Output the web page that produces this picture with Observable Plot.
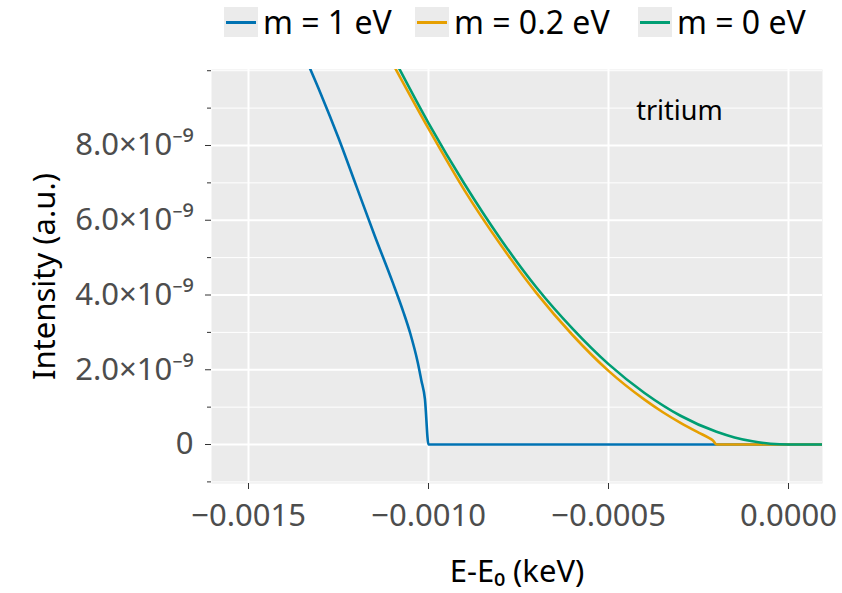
<!DOCTYPE html>
<html>
<head>
<meta charset="utf-8">
<script src="https://cdn.jsdelivr.net/npm/d3@7"></script>
<script src="https://cdn.jsdelivr.net/npm/@observablehq/plot@0.6"></script>
<style>
  body { margin: 0; background: #fff; font-family: "Noto Sans", sans-serif; }
  #wrap { position: relative; width: 842px; height: 593px; }
  #legend { position: absolute; top: 0; left: 0; width: 842px; height: 50px; font-size: 32px; color: #000; }
  .item { position: absolute; top: 6px; display: flex; align-items: center; line-height: 32px; }
  .sw { width: 34px; height: 30px; background: #EBEBEB; position: relative; margin-right: 5px; }
  .sw span { position: absolute; left: 2px; right: 2px; top: 13.5px; height: 3px; }
</style>
</head>
<body>
<div id="wrap"><div id="legend"></div><div id="chart"></div></div>
<script>
// ---- data ----
const seriesNames = ["m = 1 eV", "m = 0.2 eV", "m = 0 eV"];
const seriesColors = ["#0072B2", "#E69F00", "#009E73"];

// m = 1 eV  (x in keV, y in units of 1e-9)
const m1X = [-0.00134, -0.00130, -0.00125, -0.00120, -0.00115, -0.00110, -0.00107, -0.00105, -0.00103, -0.00102, -0.00101, -0.00100, -0.00050, 0.00000, 0.00010];
const m1Y = [10.3, 9.4, 8.2, 6.9, 5.6, 4.35, 3.55, 2.95, 2.2, 1.72, 1.22, 0, 0, 0, 0];

// m = 0.2 eV
const m02X = [-0.00110, -0.00100, -0.00090, -0.00080, -0.00070, -0.00060, -0.00050, -0.00040, -0.00035, -0.00030, -0.00025, -0.00022, -0.00021, -0.00020, 0.00000, 0.00010];
const m02Y = [10.2, 8.45, 6.8, 5.35, 4.05, 2.93, 1.97, 1.2, 0.87, 0.58, 0.32, 0.17, 0.11, 0, 0, 0];

// m = 0 eV
const m0X = [-0.00110, -0.00100, -0.00090, -0.00080, -0.00070, -0.00060, -0.00050, -0.00040, -0.00030, -0.00020, -0.00015, -0.00010, -0.00005, 0.00000, 0.00010];
const m0Y = [10.4, 8.6, 6.97, 5.5, 4.2, 3.1, 2.15, 1.38, 0.77, 0.34, 0.19, 0.086, 0.02, 0, 0];

// axes
const xDomain = [-0.0016028, 0.0000944];
const yDomain = [-1.043e-9, 10.033e-9];
const xTicks = [-0.0015, -0.0010, -0.0005, 0];
const yMajorTicks = [0, 2e-9, 4e-9, 6e-9, 8e-9];
const yMinorTicks = [-1e-9, 1e-9, 3e-9, 5e-9, 7e-9, 9e-9, 1e-8];
const annotation = [{text: "tritium", x: -0.000303, y: 8.91e-9}];
const xTitle = "E-E₀ (keV)";
const yTitle = "Intensity (a.u.)";
const legendLeft = [224, 415, 638];

// ---- build rows ----
const toRows = (xs, ys, name) => xs.map((x, i) => ({series: name, x, y: ys[i] * 1e-9}));
const rows1 = toRows(m1X, m1Y, seriesNames[0]);
const rows02 = toRows(m02X, m02Y, seriesNames[1]);
const rows0 = toRows(m0X, m0Y, seriesNames[2]);

const fmtY = d => d === 0 ? "0" : (d / 1e-9).toFixed(1) + "×10⁻⁹";
const fmtX = d => d === 0 ? "0.0000" : d3.format(".4f")(d);

const lineOpts = (color) => ({x: "x", y: "y", stroke: color, strokeWidth: 2.6, curve: "monotone-x", clip: true});

const chart = Plot.plot({
  width: 842,
  height: 593,
  marginLeft: 211,
  marginRight: 20,
  marginTop: 69,
  marginBottom: 110,
  style: {fontFamily: "Noto Sans", fontSize: "31px", background: "white"},
  x: {domain: xDomain, label: null},
  y: {domain: yDomain, label: null},
  marks: [
    Plot.frame({fill: "#EBEBEB", stroke: null}),
    Plot.gridY(yMinorTicks, {stroke: "white", strokeOpacity: 1, strokeWidth: 1}),
    Plot.gridY(yMajorTicks, {stroke: "white", strokeOpacity: 1, strokeWidth: 2}),
    Plot.gridX(xTicks, {stroke: "white", strokeOpacity: 1, strokeWidth: 2}),
    Plot.axisY(yMajorTicks, {tickSize: 6, tickPadding: 12, tickFormat: fmtY, fill: "#4D4D4D", stroke: "#333", label: null, fontSize: 31}),
    Plot.axisY(yMinorTicks, {tickSize: 4, tickFormat: () => "", stroke: "#333", label: null}),
    Plot.axisX(xTicks, {tickSize: 6, tickPadding: 14, tickFormat: fmtX, fill: "#4D4D4D", stroke: "#333", label: null, fontSize: 31}),
    Plot.line(rows1, lineOpts(seriesColors[0])),
    Plot.line(rows02, lineOpts(seriesColors[1])),
    Plot.line(rows0, lineOpts(seriesColors[2])),
    Plot.text(annotation, {x: "x", y: "y", text: "text", fill: "#000", fontSize: 27}),
    Plot.text([xTitle], {frameAnchor: "bottom", lineAnchor: "middle", dy: 89, fill: "#000", fontSize: 31}),
    Plot.text([yTitle], {frameAnchor: "left", textAnchor: "middle", rotate: -90, dx: -166, fill: "#000", fontSize: 31})
  ]
});
document.getElementById("chart").appendChild(chart);

// legend
const legend = document.getElementById("legend");
seriesNames.forEach((name, i) => {
  const item = document.createElement("div");
  item.className = "item";
  item.style.left = legendLeft[i] + "px";
  const sw = document.createElement("div");
  sw.className = "sw";
  const ln = document.createElement("span");
  ln.style.background = seriesColors[i];
  sw.appendChild(ln);
  const t = document.createElement("span");
  t.textContent = name;
  item.appendChild(sw);
  item.appendChild(t);
  legend.appendChild(item);
});
</script>
</body>
</html>
